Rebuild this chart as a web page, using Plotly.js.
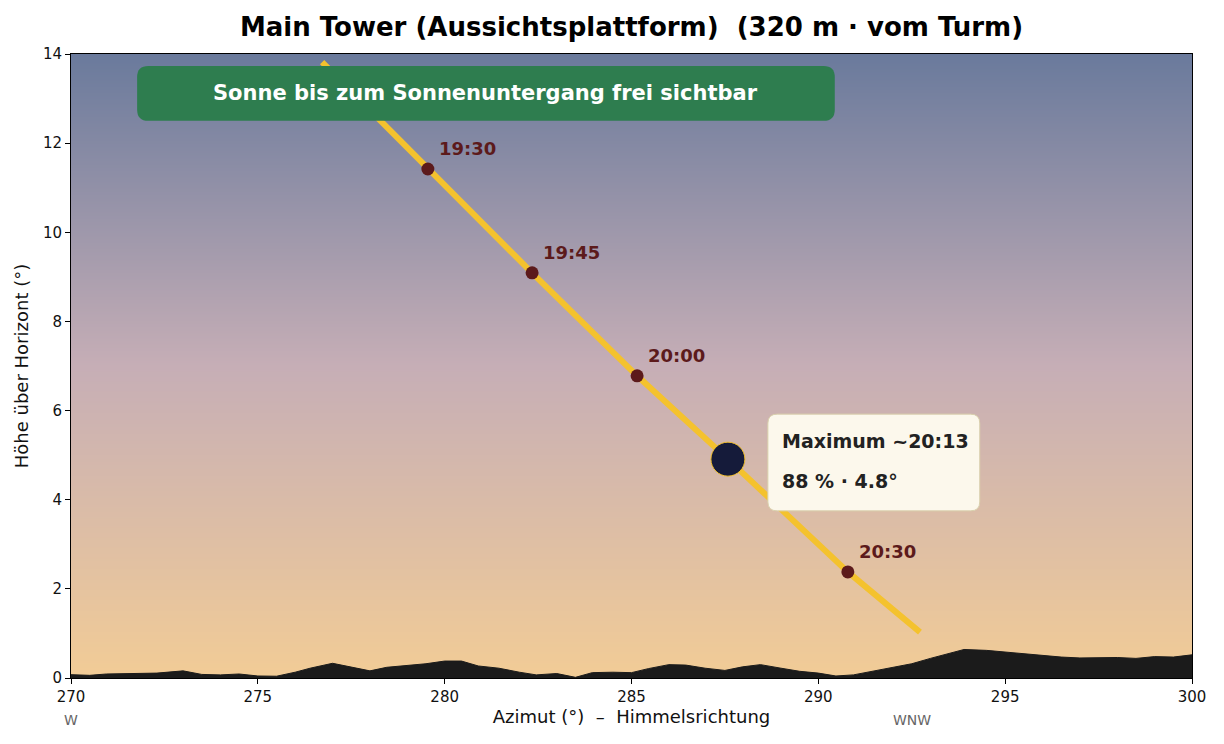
<!DOCTYPE html>
<html>
<head>
<meta charset="utf-8">
<script src="https://cdn.plot.ly/plotly-3.0.1.min.js"></script>
<style>html,body{margin:0;padding:0;background:#fff;}#chart{width:1224px;height:744px;}</style>
</head>
<body>
<div id="chart"></div>
<script>
// Horizon silhouette (azimuth °, altitude °)
const horizonAz = [270,270.5,270.95,271.6,272.3,273.0,273.5,274.0,274.5,275.0,275.5,276.0,276.4,277.0,277.5,278.0,278.45,279.0,279.5,280.0,280.45,280.9,281.45,282.0,282.45,283.0,283.5,283.95,284.5,285.0,285.45,286.0,286.45,286.97,287.5,287.97,288.45,289.0,289.5,290.0,290.47,290.94,291.5,292.05,292.5,293.0,293.45,293.9,294.5,295.0,295.5,296.0,296.5,297.0,297.5,298.0,298.5,299.0,299.5,300];
const horizonAlt = [0.075,0.06,0.09,0.10,0.11,0.16,0.08,0.07,0.09,0.045,0.04,0.13,0.22,0.33,0.24,0.16,0.24,0.28,0.32,0.38,0.38,0.27,0.22,0.13,0.07,0.10,0.015,0.12,0.13,0.12,0.21,0.30,0.29,0.22,0.17,0.25,0.30,0.22,0.15,0.11,0.045,0.07,0.16,0.25,0.32,0.44,0.54,0.64,0.62,0.58,0.55,0.50,0.47,0.45,0.46,0.46,0.44,0.48,0.47,0.52];

// Sun path
const pathAz  = [276.72, 279.55, 282.34, 285.15, 287.58, 290.79, 292.72];
const pathAlt = [13.82, 11.42, 9.09, 6.78, 4.91, 2.38, 1.03];

// Labelled time markers
const markTimes = ['19:30', '19:45', '20:00', '20:30'];
const markAz    = [279.55, 282.34, 285.15, 290.79];
const markAlt   = [11.42, 9.09, 6.78, 2.38];

// Maximum
const maxAz = [287.58];
const maxAlt = [4.91];
const maxTime = '20:13';
const maxPct = 88;
const maxAltLabel = 4.8;

// Compass labels
const compassNames = ['W', 'WNW'];
const compassAz = [270, 292.5];

// Sky gradient
const skyAlt = [0, 7, 14];
const skyColors = ['#f2cc96', '#c6aeb6', '#6a7a9c'];

const FONT = 'DejaVu Sans, sans-serif';

const sky = {
  type: 'heatmap',
  x: [270, 300],
  y: skyAlt,
  z: skyAlt.map((a, i) => [i / (skyAlt.length - 1), i / (skyAlt.length - 1)]),
  colorscale: skyColors.map((c, i) => [i / (skyColors.length - 1), c]),
  zmin: 0, zmax: 1,
  zsmooth: 'best',
  showscale: false,
  hoverinfo: 'skip'
};

const horizon = {
  type: 'scatter', mode: 'lines',
  x: horizonAz, y: horizonAlt,
  fill: 'tozeroy', fillcolor: '#1b1b1b',
  line: {color: '#1b1b1b', width: 1},
  hoverinfo: 'skip'
};

const path = {
  type: 'scatter', mode: 'lines',
  x: pathAz, y: pathAlt,
  line: {color: '#f4c22e', width: 6},
  hoverinfo: 'skip'
};

const marks = {
  type: 'scatter', mode: 'markers',
  x: markAz, y: markAlt,
  marker: {color: '#5c1a1b', size: 13},
  hoverinfo: 'skip'
};

const maxMark = {
  type: 'scatter', mode: 'markers',
  x: maxAz, y: maxAlt,
  marker: {color: '#151b3a', size: 34, line: {color: '#f4c22e', width: 1}},
  hoverinfo: 'skip'
};

const annotations = [];
markTimes.forEach((t, i) => {
  annotations.push({
    x: markAz[i], y: markAlt[i], xref: 'x', yref: 'y',
    text: '<b>' + t + '</b>', showarrow: false,
    xanchor: 'left', yanchor: 'middle', xshift: 9, yshift: 20,
    font: {family: FONT, size: 18, color: '#5c1a1b'}
  });
});
compassNames.forEach((n, i) => {
  annotations.push({
    x: compassAz[i], y: -0.068, xref: 'x', yref: 'paper',
    text: n, showarrow: false, xanchor: 'center', yanchor: 'middle',
    font: {family: FONT, size: 14, color: '#666'}
  });
});
annotations.push({
  x: 281.1, y: 13.13, xref: 'x', yref: 'y',
  text: '<b>Sonne bis zum Sonnenuntergang frei sichtbar</b>', showarrow: false,
  xanchor: 'center', yanchor: 'middle',
  font: {family: FONT, size: 21, color: '#ffffff'}
});
annotations.push({
  x: 288.97, y: 5.32, xref: 'x', yref: 'y',
  text: '<b>Maximum ~' + maxTime + '</b>', showarrow: false,
  xanchor: 'left', yanchor: 'middle',
  font: {family: FONT, size: 19, color: '#222222'}
});
annotations.push({
  x: 288.97, y: 4.42, xref: 'x', yref: 'y',
  text: '<b>' + maxPct + ' % · ' + maxAltLabel.toFixed(1) + '°</b>', showarrow: false,
  xanchor: 'left', yanchor: 'middle',
  font: {family: FONT, size: 19, color: '#222222'}
});

function roundRect(x0, x1, y0, y1, rx, ry) {
  return 'M' + (x0 + rx) + ',' + y1 +
    ' L' + (x1 - rx) + ',' + y1 +
    ' Q' + x1 + ',' + y1 + ' ' + x1 + ',' + (y1 - ry) +
    ' L' + x1 + ',' + (y0 + ry) +
    ' Q' + x1 + ',' + y0 + ' ' + (x1 - rx) + ',' + y0 +
    ' L' + (x0 + rx) + ',' + y0 +
    ' Q' + x0 + ',' + y0 + ' ' + x0 + ',' + (y0 + ry) +
    ' L' + x0 + ',' + (y1 - ry) +
    ' Q' + x0 + ',' + y1 + ' ' + (x0 + rx) + ',' + y1 + ' Z';
}

const shapes = [
  {type: 'path', xref: 'x', yref: 'y', layer: 'above',
   path: roundRect(271.77, 290.44, 12.50, 13.73, 0.3, 0.25),
   fillcolor: '#2e7d4f', line: {width: 0}},
  {type: 'path', xref: 'x', yref: 'y', layer: 'above',
   path: roundRect(288.65, 294.32, 3.75, 5.92, 0.25, 0.2),
   fillcolor: '#fcf8ec', line: {color: '#d9d0ac', width: 1}}
];

const layout = {
  width: 1224, height: 744,
  margin: {l: 71, r: 32, t: 54, b: 66},
  paper_bgcolor: '#ffffff',
  plot_bgcolor: '#ffffff',
  showlegend: false,
  title: {
    text: '<b>Main Tower (Aussichtsplattform)\u00a0 (320 m · vom Turm)</b>',
    xref: 'paper', x: 0.5, xanchor: 'center', y: 0.964, yanchor: 'middle',
    font: {family: FONT, size: 26, color: '#000'}
  },
  xaxis: {
    range: [270, 300], tickmode: 'array', tickvals: [270, 275, 280, 285, 290, 295, 300],
    ticks: 'outside', ticklen: 5, tickcolor: '#000', showgrid: false, zeroline: false,
    showline: true, mirror: true, linecolor: '#000', linewidth: 1,
    tickfont: {family: FONT, size: 15, color: '#111'},
    title: {text: 'Azimut (°) \u00a0–\u00a0 Himmelsrichtung', standoff: 5,
            font: {family: FONT, size: 18, color: '#111'}}
  },
  yaxis: {
    range: [0, 14], tickmode: 'array', tickvals: [0, 2, 4, 6, 8, 10, 12, 14],
    ticks: 'outside', ticklen: 5, tickcolor: '#000', showgrid: false, zeroline: false,
    showline: true, mirror: true, linecolor: '#000', linewidth: 1,
    tickfont: {family: FONT, size: 15, color: '#111'},
    title: {text: 'Höhe über Horizont (°)', standoff: 9,
            font: {family: FONT, size: 18, color: '#111'}}
  },
  annotations: annotations,
  shapes: shapes
};

Plotly.newPlot('chart', [sky, horizon, path, marks, maxMark], layout, {displayModeBar: false, staticPlot: true});
</script>
</body>
</html>
